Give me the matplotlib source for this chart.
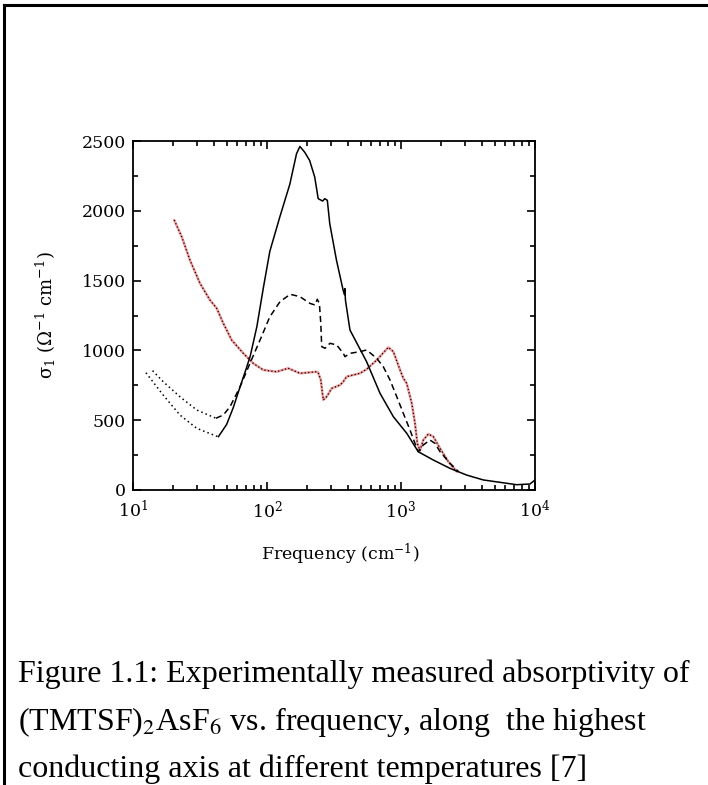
import matplotlib
matplotlib.use("Agg")
import matplotlib.pyplot as plt
from matplotlib.lines import Line2D
from matplotlib.ticker import LogLocator, MultipleLocator, NullFormatter

# ---- data (frequency in cm^-1, sigma_1 in Ohm^-1 cm^-1) ----
solid_f = [43.4, 50, 56, 63, 70, 75, 84, 94, 105, 125, 148, 166, 176, 191, 208, 227,
           241, 260, 270, 282, 294, 330, 370, 378, 381, 385, 416, 554, 697, 877, 1104,
           1346, 1741, 2321, 3090, 4113, 5478, 7300, 9180, 10000]
solid_s = [382, 470, 590, 740, 870, 960, 1170, 1450, 1710, 1960, 2190, 2408, 2461, 2420,
           2361, 2242, 2087, 2070, 2087, 2075, 1908, 1646, 1431, 1400, 1443, 1360, 1146,
           919, 693, 525, 406, 274, 215, 155, 107, 72, 55, 38, 43, 72]

solid_ext_f = [12.5, 16.8, 22.4, 29.9, 41.6, 43.4]
solid_ext_s = [840, 680, 537, 442, 387, 382]

dash_ext_f = [14.0, 16.8, 22.4, 29.9, 41.6]
dash_ext_s = [855, 776, 668, 573, 514]

dash_f = [41.6, 47.2, 53.0, 63.0, 74.6, 88.7, 105, 125, 149, 176, 209, 228, 237, 246,
          252, 256, 271, 295, 331, 371, 382, 416, 494, 554, 659, 738, 828, 929, 1041,
          1167, 1272, 1345, 1466, 1644, 1793, 1954, 2321, 2700]
dash_s = [514, 537, 597, 740, 907, 1074, 1241, 1349, 1402, 1385, 1337, 1325, 1366, 1337,
          1194, 1027, 1015, 1051, 1039, 979, 955, 979, 991, 1003, 943, 883, 788, 669, 549,
          430, 334, 275, 322, 358, 334, 275, 191, 130]

red_f = [20.3, 23.1, 26.6, 31.6, 37.5, 42.1, 47.2, 54.5, 66.6, 79.0, 93.8, 118, 144, 176,
         235, 241, 252, 263, 279, 304, 351, 371, 393, 494, 554, 659, 804, 877, 984, 1041,
         1103, 1203, 1272, 1324, 1386, 1466, 1599, 1743, 1954, 2255, 2606]
red_s = [1934, 1814, 1647, 1481, 1361, 1302, 1194, 1074, 979, 907, 860, 847, 872, 836,
         847, 840, 788, 645, 669, 728, 752, 776, 812, 836, 865, 931, 1022, 991, 860, 800,
         764, 621, 478, 334, 282, 358, 401, 382, 299, 203, 131]

y_ticks = [0, 500, 1000, 1500, 2000, 2500]
x_ticks = [10, 100, 1000, 10000]
x_ticklabels = [r"$10^{1}$", r"$10^{2}$", r"$10^{3}$", r"$10^{4}$"]

caption_lines = [
    "Figure 1.1: Experimentally measured absorptivity of",
    "(TMTSF)$_2$AsF$_6$ vs. frequency, along  the highest",
    "conducting axis at different temperatures [7]",
]

# ---- figure ----
W, H = 708, 785
fig = plt.figure(figsize=(W / 100, H / 100), dpi=100)
ax = fig.add_axes([133 / W, 1 - 490 / H, (535 - 133) / W, (490 - 141) / H])

ax.plot(red_f, red_s, color="#f29a9a", lw=1.8, solid_capstyle="round", zorder=2)
ax.plot(red_f, red_s, color="black", lw=0.9, ls=(0, (1, 1.8)), zorder=3)
ax.plot(solid_f, solid_s, color="black", lw=1.1, zorder=3)
ax.plot(solid_ext_f, solid_ext_s, color="black", lw=1.1, ls=(0, (1, 2)), zorder=3)
ax.plot(dash_ext_f, dash_ext_s, color="black", lw=1.1, ls=(0, (1, 2)), zorder=3)
ax.plot(dash_f, dash_s, color="black", lw=1.1, ls=(0, (4, 2.5)), zorder=3)

ax.set_xscale("log")
ax.set_xlim(10, 10000)
ax.set_ylim(0, 2500)

serif = "DejaVu Serif"
ax.set_xticks(x_ticks)
ax.set_xticklabels(x_ticklabels, fontfamily=serif, fontsize=12.5)
ax.xaxis.set_minor_locator(LogLocator(base=10, subs=range(2, 10)))
ax.xaxis.set_minor_formatter(NullFormatter())
ax.set_yticks(y_ticks)
ax.set_yticklabels([str(v) for v in y_ticks], fontfamily=serif, fontsize=12.5)
ax.yaxis.set_minor_locator(MultipleLocator(250))

for lab in ax.get_xticklabels():
    lab.set_math_fontfamily("dejavuserif")

ax.tick_params(which="both", direction="in", top=True, right=True, width=1.2, color="black")
ax.tick_params(which="major", length=6)
ax.tick_params(which="minor", length=3.5)
ax.tick_params(axis="y", pad=5)
ax.tick_params(axis="x", pad=7)
for sp in ax.spines.values():
    sp.set_linewidth(1.3)

ax.set_xlabel(r"Frequency (cm$^{-1}$)", fontfamily=serif, fontsize=12.5,
              math_fontfamily="dejavuserif")
ax.xaxis.set_label_coords((340 - 133) / 402, (490 - 542) / 349)
ax.set_ylabel(r"σ$_1$ (Ω$^{-1}$ cm$^{-1}$)", fontfamily=serif, fontsize=13,
              math_fontfamily="dejavuserif")
ax.yaxis.set_label_coords((58 - 133) / 402, 0.5)

# caption
baselines = [682, 730, 777]
for txt, yb in zip(caption_lines, baselines):
    fig.text(18 / W, 1 - yb / H, txt, fontfamily="Liberation Serif", fontsize=23,
             ha="left", va="baseline", math_fontfamily="stix")

# page frame (top and left rules)
fig.add_artist(Line2D([3.5 / W, 1.0], [1 - 4.5 / H, 1 - 4.5 / H], color="black", lw=2.2,
                      transform=fig.transFigure))
fig.add_artist(Line2D([3.5 / W, 3.5 / W], [0, 1 - 4.5 / H], color="black", lw=2.2,
                      transform=fig.transFigure))

fig.savefig("out.png", dpi=100)
